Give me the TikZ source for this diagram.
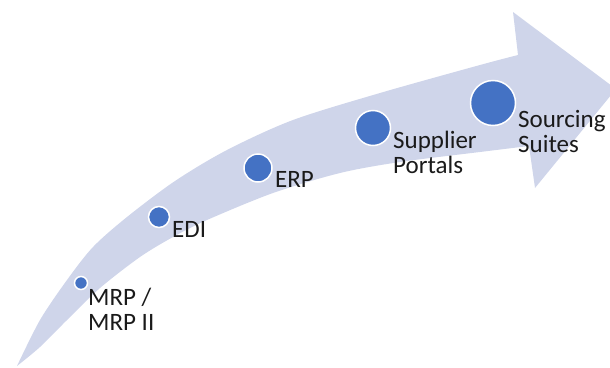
\documentclass[tikz,border=0pt]{standalone}
\usepackage{fontspec}
\setmainfont{Carlito}
\definecolor{arrowfill}{HTML}{CFD5EA}
\definecolor{dotblue}{HTML}{4472C4}
\definecolor{txt}{HTML}{1A1A1A}
\begin{document}
\begin{tikzpicture}[x=1pt,y=-1pt,
  dot/.style={circle, fill=dotblue, draw=white, line width=1.5pt, inner sep=0pt},
  lbl/.style={anchor=base west, inner sep=0pt, align=left, text=txt, font=\fontsize{25}{25}\selectfont}]
\clip (0,0) rectangle (610,367);
\fill[arrowfill] plot[smooth, tension=0.5] coordinates {(17,366) (40,320) (67,280) (93,247) (127,217) (175,181) (227,150) (293,120) (380,93) (480,65) (518,55)}
  -- (513,12) -- (616,89) -- (535,188) -- (529,146)
  -- plot[smooth, tension=0.5] coordinates {(529,146) (480,152) (400,162) (340,173) (273,193) (207,220) (173,237) (140,257) (100,288) (67,320) (40,347) (17,366)} -- cycle;
\node[dot, minimum size=13pt] (d1) at (81,283) {};
\node[dot, minimum size=21pt] (d2) at (159,217) {};
\node[dot, minimum size=28pt] (d3) at (258,168) {};
\node[dot, minimum size=35pt] (d4) at (373,128) {};
\node[dot, minimum size=45pt] (d5) at (493,103) {};
\node[lbl] (t1) at (88,330) {MRP /\\MRP II};
\node[lbl] (t2) at (172,237) {EDI};
\node[lbl] (t3) at (275,187) {ERP};
\node[lbl] (t4) at (393,173) {Supplier\\Portals};
\node[lbl] (t5) at (518,152) {Sourcing\\Suites};
\end{tikzpicture}
\end{document}
